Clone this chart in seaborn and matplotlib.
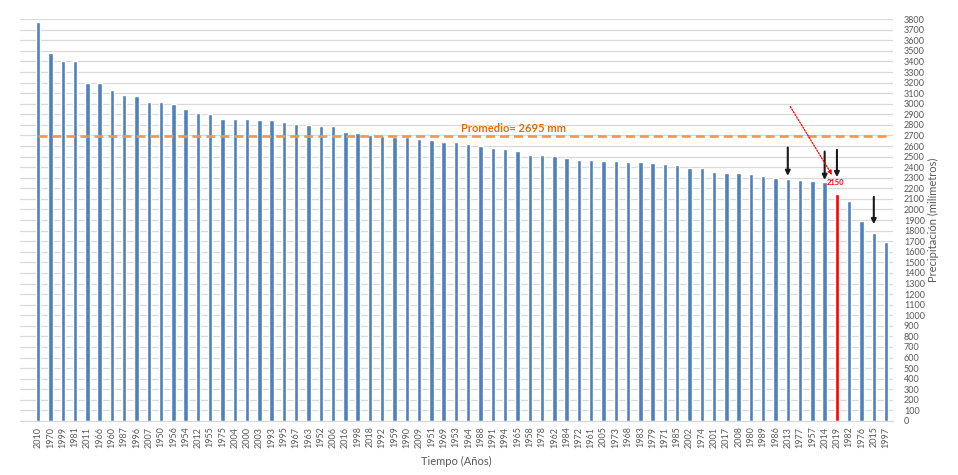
import numpy as np
import pandas as pd
import seaborn as sns
import matplotlib.pyplot as plt

# years, in the (descending precipitation) order shown on the chart
anios = ['2010', '1970', '1999', '1981', '2011', '1966', '1960', '1987', '1996', '2007',
         '1950', '1956', '1954', '2012', '1955', '1975', '2004', '2000', '2003', '1993',
         '1995', '1967', '1963', '1952', '2006', '2016', '1998', '2018', '1992', '1959',
         '1990', '2009', '1951', '1969', '1953', '1964', '1988', '1991', '1994', '1965',
         '1958', '1978', '1962', '1984', '1972', '1961', '2005', '1973', '1968', '1983',
         '1979', '1971', '1985', '2002', '1974', '2001', '2017', '2008', '1980', '1989',
         '1986', '2013', '1977', '1957', '2014', '2019', '1982', '1976', '2015', '1997']

precip = [3770, 3478, 3408, 3408, 3194, 3194, 3134, 3086, 3077, 3020,
          3020, 3001, 2954, 2916, 2907, 2860, 2860, 2860, 2850, 2850,
          2831, 2813, 2803, 2794, 2794, 2737, 2728, 2700, 2691, 2684,
          2681, 2662, 2653, 2634, 2634, 2616, 2597, 2578, 2569, 2550,
          2512, 2512, 2503, 2484, 2466, 2466, 2456, 2456, 2447, 2447,
          2437, 2428, 2419, 2391, 2391, 2353, 2344, 2344, 2334, 2316,
          2297, 2287, 2278, 2269, 2259, 2150, 2081, 1894, 1781, 1692]

promedio = 2695
destacado = '2019'

# black arrows: (bar year, start value, tip value)
flechas = [('2013', 2586, 2318), ('2014', 2548, 2280), ('2019', 2564, 2306), ('2015', 2119, 1861)]

azul = '#4F81BD'
rojo = '#FF0000'
naranja = '#F79646'
gris_txt = '#595959'

df = pd.DataFrame({'anio': anios, 'mm': precip})
colores = {a: (rojo if a == destacado else azul) for a in anios}

sns.set_style('white')
plt.rcParams['font.family'] = ['Lato', 'DejaVu Sans']

fig = plt.figure(figsize=(9.58, 4.75), dpi=100)
ax = fig.add_axes([0.021, 0.1137, 0.911, 0.846])

sns.barplot(data=df, x='anio', y='mm', hue='anio', order=anios, palette=colores,
            width=0.36, legend=False, ax=ax, saturation=1)

n = len(anios)
ax.plot(np.arange(n), [promedio] * n, color=naranja, lw=1.9, dashes=(3.4, 1.9), zorder=3)
ax.text(38.7, 2770, f'Promedio= {promedio} mm', color='#E46C0A', fontsize=8,
        fontweight='bold', ha='center', va='center')

pos = {a: i for i, a in enumerate(anios)}
for a, y0, y1 in flechas:
    ax.annotate('', xy=(pos[a], y1), xytext=(pos[a], y0),
                arrowprops=dict(arrowstyle='-|>', color='#1a1a1a', lw=1.5,
                                mutation_scale=7, shrinkA=0, shrinkB=0))

ax.annotate('', xy=(64.6, 2327), xytext=(61.2, 2974),
            arrowprops=dict(arrowstyle='-|>', color=rojo, lw=0.9, linestyle=(0, (1.2, 1.2)),
                            mutation_scale=6, shrinkA=0, shrinkB=0))
ax.text(pos[destacado] - 0.1, 2255, '2150', color=rojo, fontsize=5.5, fontweight='bold',
        ha='center', va='center')

ax.set_xlim(-1.47, n - 1 + 0.55)
ax.set_ylim(0, 3800)
ax.set_yticks(np.arange(0, 3801, 100))
ax.yaxis.tick_right()
ax.yaxis.set_label_position('right')
ax.grid(axis='y', color='#D9D9D9', lw=0.9)
ax.set_axisbelow(True)
for s in ['top', 'left', 'right']:
    ax.spines[s].set_visible(False)
ax.spines['bottom'].set_color('#D9D9D9')

ax.tick_params(axis='y', length=0, labelsize=6.5, labelcolor=gris_txt, pad=8)
ax.tick_params(axis='x', length=0, labelsize=6.5, labelcolor=gris_txt, rotation=90, pad=4)

ax.set_xlabel('Tiempo (Años)', fontsize=8, color=gris_txt, labelpad=6)
ax.set_ylabel('Precipitación (milímetros)', fontsize=8, color=gris_txt, labelpad=2)

fig.savefig('out.png', dpi=100)
